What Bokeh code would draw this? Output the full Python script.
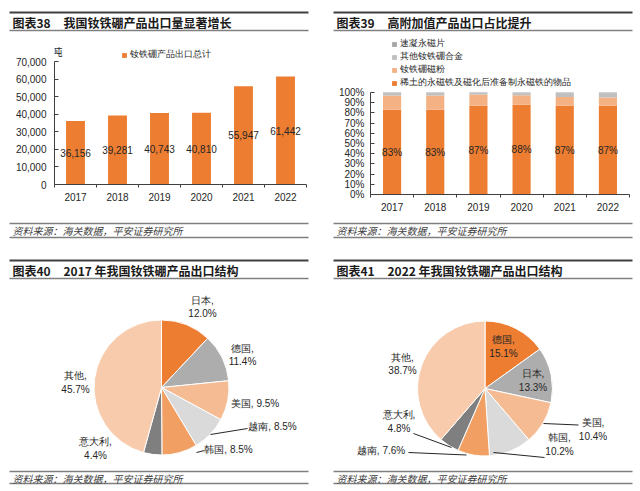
import math
from bokeh.plotting import figure
from bokeh.models import (ColumnDataSource, Range1d, FixedTicker, NumeralTickFormatter,
                          Legend, LegendItem, Label)
from bokeh.layouts import column, row
from bokeh.embed import file_html
from bokeh.resources import INLINE
from bokeh.core.properties import value

# ---------------- data ----------------
years = ["2017", "2018", "2019", "2020", "2021", "2022"]
export_total = [36156, 39281, 40743, 40810, 55947, 61442]
export_unit = "吨"
export_series = "钕铁硼产品出口总计"
export_yticks = [0, 10000, 20000, 30000, 40000, 50000, 60000, 70000]

share_series = ["稀土的永磁铁及磁化后准备制永磁铁的物品", "钕铁硼磁粉", "其他钕铁硼合金", "速凝永磁片"]
share_magnet = [83, 83, 87, 88, 87, 87]
share_powder = [14, 14, 11, 9.3, 8.5, 8]
share_alloy = [2, 2, 1.5, 2, 3.5, 4]
share_flake = [1, 1, 0.5, 0.7, 1, 1]
share_yticks = [0, 10, 20, 30, 40, 50, 60, 70, 80, 90, 100]

pie2017_names = ["日本", "德国", "美国", "越南", "韩国", "意大利", "其他"]
pie2017_values = [12.0, 11.4, 9.5, 8.5, 8.5, 4.4, 45.7]
pie2022_names = ["德国", "日本", "美国", "韩国", "越南", "意大利", "其他"]
pie2022_values = [15.1, 13.3, 10.4, 10.2, 7.6, 4.8, 38.7]

panel_tags = ["图表38", "图表39", "图表40", "图表41"]
panel_titles = ["我国钕铁硼产品出口量显著增长", "高附加值产品出口占比提升",
                "2017 年我国钕铁硼产品出口结构", "2022 年我国钕铁硼产品出口结构"]
source_text = "资料来源：海关数据，平安证券研究所"

# ---------------- styles / layout ----------------
CJK = "Noto Sans CJK SC"
LAT = "Liberation Sans"
ORANGE = "#ED7D31"
TXT = "#262626"
AX = "#404040"
share_colors = ["#ED7D31", "#F4B183", "#BFBFBF", "#A5A5A5"]
pie_colors = ["#ED7D31", "#ADADAD", "#F5BC93", "#DADADA", "#F19F63", "#7F7F7F", "#F8CBAD"]

W = 640
HDR_H = 36
ROW_TOP, ROW_BOT = 36, 215
XAX_SPACE = 21                    # room under each bar chart's x axis
B1_TOP_PX, B1_ZERO_PX = 61, 184   # where 70,000 and 0 sit (page px)
B2_TOP_PX, B2_ZERO_PX = 92, 194   # where 100% and 0% sit (page px)


def blank(w, h, x0, x1, y0, y1):
    p = figure(width=w, height=h, x_range=Range1d(x0, x1), y_range=Range1d(y0, y1),
               output_backend="svg", toolbar_location=None, min_border=0,
               x_axis_location=None, y_axis_location=None)
    p.grid.visible = False
    p.outline_line_color = None
    return p


def rules_and_title(p, ytop, ytxt, yline, tags, titles, xs):
    p.segment(x0=[x + 1 for x in xs], y0=[-ytop] * 2, x1=[x + 300 for x in xs], y1=[-ytop] * 2,
              line_width=2, line_color="#404040")
    p.segment(x0=[x + 1 for x in xs], y0=[-yline] * 2, x1=[x + 300 for x in xs], y1=[-yline] * 2,
              line_width=1.5, line_color="#808080")
    p.text(x=[x + 4 for x in xs], y=[-ytxt] * 2, text=tags, text_font=value(CJK),
           text_font_style="bold", text_font_size="12px", text_color="#1a1a1a",
           text_align="left", text_baseline="middle")
    p.text(x=[x + 55 for x in xs], y=[-ytxt] * 2, text=titles, text_font=value(CJK),
           text_font_style="bold", text_font_size="12px", text_color="#1a1a1a",
           text_align="left", text_baseline="middle")


def source_block(p, ytop, ytxt, ybot, xs):
    for yy in (ytop, ybot):
        p.segment(x0=[x + 1 for x in xs], y0=[-yy] * 2, x1=[x + 300 for x in xs], y1=[-yy] * 2,
                  line_width=1.5, line_color="#7F7F7F")
    p.text(x=[x + 4 for x in xs], y=[-ytxt] * 2, text=[source_text] * 2, text_font=value(CJK),
           text_font_style="italic", text_font_size="10px", text_color="#404040",
           text_align="left", text_baseline="middle")


PANEL_X = [8, 332]

# ---------------- header ----------------
hdr = blank(W, HDR_H, 0, W, -HDR_H, 0)
rules_and_title(hdr, 12, 22, 30, panel_tags[:2], panel_titles[:2], PANEL_X)

idx = list(range(len(years)))
boundaries = [i - 0.5 for i in range(len(years) + 1)]


def style_axes(p):
    p.grid.visible = False
    p.outline_line_color = None
    for ax in (p.xaxis[0], p.yaxis[0]):
        ax.axis_line_color = AX
        ax.major_label_text_font = LAT
        ax.major_label_text_color = TXT
        ax.major_label_text_font_size = "10px"
    p.xaxis.ticker = FixedTicker(ticks=idx, minor_ticks=boundaries)
    p.xaxis.major_label_overrides = {i: y for i, y in zip(idx, years)}
    p.xaxis.major_tick_line_color = None
    p.xaxis.major_tick_out = 0
    p.xaxis.major_tick_in = 0
    p.xaxis.minor_tick_line_color = AX
    p.xaxis.minor_tick_out = 3
    p.xaxis.minor_tick_in = 0
    p.xaxis.major_label_standoff = 5
    p.yaxis.major_tick_in = 4
    p.yaxis.major_tick_out = 0
    p.yaxis.major_tick_line_color = AX
    p.yaxis.minor_tick_line_color = None


def yrange_for(vmax, top_px, zero_px):
    per = vmax / (zero_px - top_px)
    return Range1d(0, vmax + (top_px - ROW_TOP) * per)


def legend_for(items, loc):
    return Legend(items=items, location=loc,
                  label_text_font=LAT, label_text_font_size="9.2px", label_text_color=TXT,
                  glyph_width=6, glyph_height=6, label_standoff=3, padding=0, margin=0, spacing=0,
                  border_line_color=None, background_fill_alpha=0, label_height=12)


# ---------------- bar chart 1 ----------------
b1 = figure(width=320, height=B1_ZERO_PX + XAX_SPACE - ROW_TOP, x_range=Range1d(-0.5, 5.5),
            y_range=yrange_for(export_yticks[-1], B1_TOP_PX, B1_ZERO_PX),
            output_backend="svg", toolbar_location=None, min_border=0,
            min_border_left=54, min_border_right=14, min_border_top=0,
            min_border_bottom=XAX_SPACE, align="start")
src1 = ColumnDataSource(dict(x=idx, y=export_total, mid=[v / 2 for v in export_total],
                             lab=[f"{v:,}" for v in export_total]))
r1 = b1.vbar(x="x", top="y", width=0.45, fill_color=ORANGE, line_color=None, source=src1)
b1.text(x="x", y="mid", text="lab", text_align="center", text_baseline="middle",
        text_font_size="10px", text_font=value(LAT), text_color=TXT, source=src1)
style_axes(b1)
b1.yaxis.bounds = (0, export_yticks[-1])
b1.yaxis.ticker = FixedTicker(ticks=export_yticks)
b1.yaxis.formatter = NumeralTickFormatter(format="0,0")
b1.yaxis.major_label_standoff = 8
b1.add_layout(legend_for([LegendItem(label=export_series, renderers=[r1])],
                         (67, B1_ZERO_PX - 61)))
b1.add_layout(Label(x=3, y=B1_ZERO_PX - 51, x_units="screen", y_units="screen", text=export_unit,
                    text_font=CJK, text_font_size="10px", text_color=TXT,
                    text_align="center", text_baseline="middle"))

# ---------------- bar chart 2 ----------------
b2 = figure(width=320, height=B2_ZERO_PX + XAX_SPACE - ROW_TOP, x_range=Range1d(-0.5, 5.5),
            y_range=yrange_for(share_yticks[-1], B2_TOP_PX, B2_ZERO_PX),
            output_backend="svg", toolbar_location=None, min_border=0,
            min_border_left=50, min_border_right=11, min_border_top=0,
            min_border_bottom=XAX_SPACE, align="start")
src2 = ColumnDataSource(dict(x=idx, magnet=share_magnet, powder=share_powder, alloy=share_alloy,
                             flake=share_flake, mid=[v / 2 for v in share_magnet],
                             lab=[f"{v:.0f}%" for v in share_magnet]))
rs = b2.vbar_stack(["magnet", "powder", "alloy", "flake"], x="x", width=0.42,
                   fill_color=share_colors, line_color=None, source=src2)
b2.text(x="x", y="mid", text="lab", text_align="center", text_baseline="middle",
        text_font_size="10px", text_font=value(LAT), text_color=TXT, source=src2)
style_axes(b2)
b2.yaxis.bounds = (0, share_yticks[-1])
b2.yaxis.ticker = FixedTicker(ticks=share_yticks)
b2.yaxis.major_label_overrides = {t: f"{t}%" for t in share_yticks}
b2.yaxis.major_label_standoff = 6
b2.add_layout(legend_for([LegendItem(label=share_series[i], renderers=[rs[i]])
                          for i in reversed(range(4))], (21, B2_ZERO_PX - 89)))

# ---------------- bottom (sources + pies) ----------------
bot = blank(W, 491 - ROW_BOT, 0, W, -491, -ROW_BOT)
source_block(bot, 223, 230, 237, PANEL_X)
rules_and_title(bot, 260, 270, 278, panel_tags[2:], panel_titles[2:], PANEL_X)
source_block(bot, 471, 477.5, 483, PANEL_X)

R = 67.5
# label layout: offsets (dx, dy, two-line?) from pie centre, in pixels (y downward)
lay2017 = [(41, -80.5, True), (81, -32.5, True), (93.5, 16, False), (111, 38.7, False),
           (67, 62, False), (-66, 61, True), (-86, -5, True)]
lay2022 = [(18.5, -42, True), (48, -8, True), (108, 41, True), (74.5, 56, True),
           (-104, 62, False), (-86, 33, True), (-82.5, -24.5, True)]
lead2017 = [((210, 434), (247, 428)), ((196, 452), (204, 450))]
lead2022 = [((543, 423), (578, 424.5)), ((493, 452), (544, 457)),
            ((408, 452), (466, 454.5)), ((413, 433), (451, 447))]


def draw_pie(p, cx, cy, names, vals, layout, leads):
    tot = sum(vals)
    s, e, c = [], [], 0.0
    for v in vals:
        s.append(math.pi / 2 - 2 * math.pi * c / tot)
        c += v
        e.append(math.pi / 2 - 2 * math.pi * c / tot)
    src = ColumnDataSource(dict(s=s, e=e, col=pie_colors[:len(vals)]))
    p.wedge(x=cx, y=-cy, radius=R, start_angle="s", end_angle="e", direction="clock",
            fill_color="col", line_color="white", line_width=1, source=src)
    p.segment(x0=[a[0] for a, b in leads], y0=[-a[1] for a, b in leads],
              x1=[b[0] for a, b in leads], y1=[-b[1] for a, b in leads],
              line_color="#262626", line_width=1)
    lx = [cx + d[0] for d in layout]
    ly = [-(cy + d[1]) for d in layout]
    txt = [f"{n},\n{v:.1f}%" if d[2] else f"{n}, {v:.1f}%" for n, v, d in zip(names, vals, layout)]
    p.text(x=lx, y=ly, text=txt, text_font=value(LAT), text_font_size="10px",
           text_color=TXT, text_align="center", text_baseline="middle", text_line_height=1.25)


draw_pie(bot, 161, 387, pie2017_names, pie2017_values, lay2017, lead2017)
draw_pie(bot, 484.5, 388, pie2022_names, pie2022_values, lay2022, lead2022)

layout = column(hdr, row(b1, b2, spacing=0), bot, spacing=0)
open("out.html", "w").write(file_html(layout, INLINE))
